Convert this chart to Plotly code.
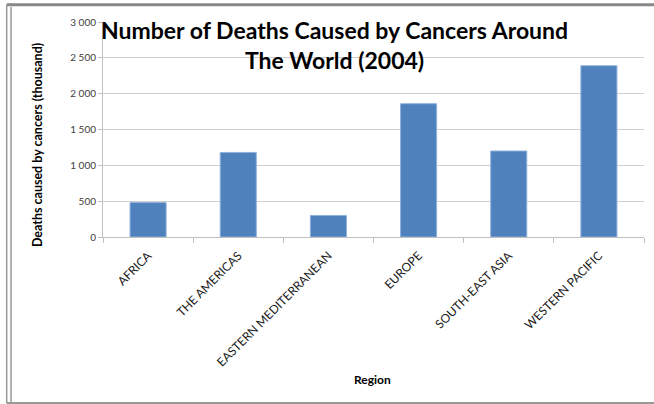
import plotly.graph_objects as go

regions = ["AFRICA", "THE AMERICAS", "EASTERN MEDITERRANEAN", "EUROPE", "SOUTH-EAST ASIA", "WESTERN PACIFIC"]
deaths = [480, 1180, 300, 1860, 1200, 2390]
y_ticks = [0, 500, 1000, 1500, 2000, 2500, 3000]

FONT = "Lato"

fig = go.Figure()
fig.add_trace(go.Bar(
    x=regions, y=deaths,
    marker=dict(color="#4f81bd", line=dict(color="#8fb0dc", width=1)),
    width=0.4,
))

fig.update_layout(
    width=654, height=404,
    margin=dict(l=103, r=10, t=22, b=167),
    paper_bgcolor="white", plot_bgcolor="white",
    font=dict(family=FONT, size=10, color="#404040"),
    separators=". ",
    showlegend=False,
    annotations=[
        dict(text="<b>Number of Deaths Caused by Cancers Around<br>The World (2004)</b>",
             xref="paper", yref="paper", x=0.428, y=1.035, xanchor="center", yanchor="top",
             showarrow=False, font=dict(family=FONT, size=23, color="black"), align="center"),
        dict(text="<b>Deaths caused by cancers (thousand)</b>", textangle=-90,
             xref="paper", yref="paper", x=-0.12, y=0.428, xanchor="center", yanchor="middle",
             showarrow=False, font=dict(family=FONT, size=12.5, color="black")),
        dict(text="<b>Region</b>",
             xref="paper", yref="paper", x=0.499, y=-0.665, xanchor="center", yanchor="middle",
             showarrow=False, font=dict(family=FONT, size=12, color="black")),
    ],
    shapes=[
        dict(type="line", xref="paper", yref="paper", x0=-0.178, x1=1.03, y0=1.08, y1=1.08,
             line=dict(color="#888888", width=3)),
        dict(type="line", xref="paper", yref="paper", x0=-0.178, x1=-0.178, y0=1.08, y1=-0.772,
             line=dict(color="#999999", width=1.5)),
        dict(type="line", xref="paper", yref="paper", x0=-0.170, x1=-0.170, y0=1.07, y1=-0.772,
             line=dict(color="#999999", width=1.5)),
        dict(type="line", xref="paper", yref="paper", x0=-0.178, x1=1.03, y0=-0.772, y1=-0.772,
             line=dict(color="#999999", width=2)),
    ],
)

fig.update_yaxes(
    range=[0, 3000], tickvals=y_ticks, tickformat=",d",
    showgrid=True, gridcolor="#d0d0d0", gridwidth=1,
    showline=True, linecolor="#c0c0c0", linewidth=1,
    ticks="outside", ticklen=4, tickcolor="#c0c0c0",
    tickfont=dict(family=FONT, size=10, color="#404040"),
    zeroline=False,
)
fig.update_xaxes(
    showline=True, linecolor="#c0c0c0", linewidth=1,
    ticks="outside", tickson="boundaries", ticklen=5, tickcolor="#c0c0c0",
    tickangle=-45, ticklabelstandoff=6,
    tickfont=dict(family=FONT, size=12, color="#202020"),
)

fig.write_html("out.html")
